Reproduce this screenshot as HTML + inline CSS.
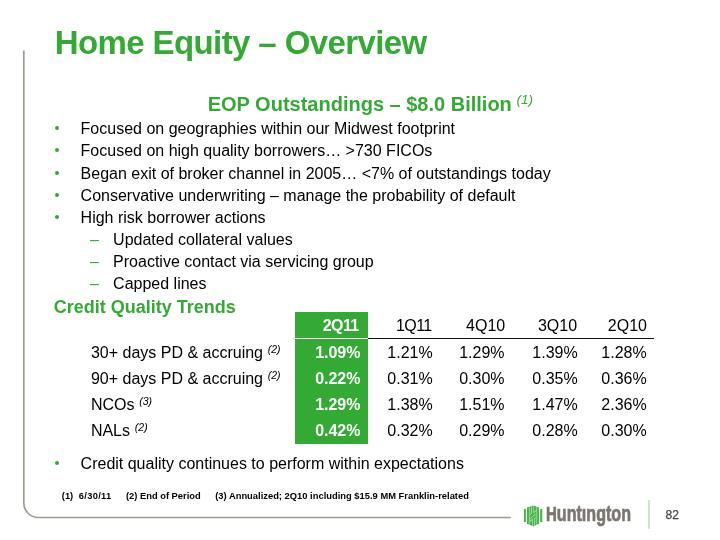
<!DOCTYPE html>
<html><head><meta charset="utf-8">
<style>
html,body{margin:0;padding:0;background:#fff;}
body{width:720px;height:540px;position:relative;overflow:hidden;will-change:transform;font-family:"Liberation Sans",sans-serif;color:#000;}
.a{position:absolute;white-space:nowrap;line-height:1;}
.g{color:#33aa33;}
.title{left:54.7px;top:25.7px;font-size:33px;font-weight:bold;letter-spacing:-0.6px;}
.sub{left:207.7px;top:94px;font-size:20px;font-weight:bold;}
.sup1{left:516.5px;top:92.8px;font-size:13.5px;font-style:italic;}
.b{font-size:16px;}
.dot{position:absolute;width:4.2px;height:4.2px;border-radius:50%;background:#33aa33;}
.dash{position:absolute;width:9px;height:1.6px;background:#33aa33;}
.h2{left:53.8px;top:298px;font-size:18px;font-weight:bold;}
.lab{font-size:16px;left:90.9px;}
.sm{font-size:10.5px;font-style:italic;position:relative;top:-5px;margin-left:4.8px;}
.num{font-size:16px;text-align:right;width:70px;}
.hd{letter-spacing:-0.6px;}
.wb{color:#fff;font-weight:bold;}
.fn{font-size:9.33px;font-weight:bold;top:491.5px;}
</style></head><body>
<!-- frame -->
<svg style="position:absolute;left:0;top:0" width="720" height="540"><path d="M23.8,50.6 V503 A14.5,14.5 0 0 0 38.3,517.5 H510.8" fill="none" stroke="#a09a91" stroke-width="1.7"/></svg>

<div class="a g title">Home Equity – Overview</div>
<div class="a g sub">EOP Outstandings – $8.0 Billion</div>
<div class="a g sup1">(1)</div>

<div class="dot" style="left:55px;top:126.2px"></div>
<div class="a b" style="left:80.6px;top:121.2px">Focused on geographies within our Midwest footprint</div>
<div class="dot" style="left:55px;top:148.3px"></div>
<div class="a b" style="left:80.6px;top:143.3px">Focused on high quality borrowers… &gt;730 FICOs</div>
<div class="dot" style="left:55px;top:170.5px"></div>
<div class="a b" style="left:80.6px;top:165.5px">Began exit of broker channel in 2005… &lt;7% of outstandings today</div>
<div class="dot" style="left:55px;top:192.6px"></div>
<div class="a b" style="left:80.6px;top:187.6px">Conservative underwriting – manage the probability of default</div>
<div class="dot" style="left:55px;top:214.7px"></div>
<div class="a b" style="left:80.6px;top:209.7px">High risk borrower actions</div>

<div class="a b g" style="left:90px;top:231.9px">–</div>
<div class="a b" style="left:113.1px;top:231.9px">Updated collateral values</div>
<div class="a b g" style="left:90px;top:254.1px">–</div>
<div class="a b" style="left:113.1px;top:254.1px">Proactive contact via servicing group</div>
<div class="a b g" style="left:90px;top:276.3px">–</div>
<div class="a b" style="left:113.1px;top:276.3px">Capped lines</div>

<div class="a g h2">Credit Quality Trends</div>

<!-- table -->
<div style="position:absolute;left:295px;top:312px;width:72.5px;height:132px;background:#33aa33;"></div>
<div style="position:absolute;left:295px;top:337.5px;width:72.5px;height:1.2px;background:#fff;"></div>
<div style="position:absolute;left:367.5px;top:337.6px;width:286.5px;height:1.3px;background:#111;"></div>

<div class="a num wb hd" style="left:288.6px;top:318.3px">2Q11</div>
<div class="a num hd" style="left:361.6px;top:318.3px">1Q11</div>
<div class="a num" style="left:435.2px;top:318.3px">4Q10</div>
<div class="a num" style="left:507.1px;top:318.3px">3Q10</div>
<div class="a num" style="left:577px;top:318.3px">2Q10</div>

<div class="a lab" style="top:345.2px">30+ days PD &amp; accruing<span class="sm">(2)</span></div>
<div class="a num wb" style="left:290.5px;top:345.2px">1.09%</div>
<div class="a num" style="left:362.7px;top:345.2px">1.21%</div>
<div class="a num" style="left:434.6px;top:345.2px">1.29%</div>
<div class="a num" style="left:507.7px;top:345.2px">1.39%</div>
<div class="a num" style="left:576.7px;top:345.2px">1.28%</div>

<div class="a lab" style="top:371.4px">90+ days PD &amp; accruing<span class="sm">(2)</span></div>
<div class="a num wb" style="left:290.5px;top:371.4px">0.22%</div>
<div class="a num" style="left:362.7px;top:371.4px">0.31%</div>
<div class="a num" style="left:434.6px;top:371.4px">0.30%</div>
<div class="a num" style="left:507.7px;top:371.4px">0.35%</div>
<div class="a num" style="left:576.7px;top:371.4px">0.36%</div>

<div class="a lab" style="top:396.9px">NCOs<span class="sm">(3)</span></div>
<div class="a num wb" style="left:290.5px;top:396.9px">1.29%</div>
<div class="a num" style="left:362.7px;top:396.9px">1.38%</div>
<div class="a num" style="left:434.6px;top:396.9px">1.51%</div>
<div class="a num" style="left:507.7px;top:396.9px">1.47%</div>
<div class="a num" style="left:576.7px;top:396.9px">2.36%</div>

<div class="a lab" style="top:422.9px">NALs<span class="sm">(2)</span></div>
<div class="a num wb" style="left:290.5px;top:422.9px">0.42%</div>
<div class="a num" style="left:362.7px;top:422.9px">0.32%</div>
<div class="a num" style="left:434.6px;top:422.9px">0.29%</div>
<div class="a num" style="left:507.7px;top:422.9px">0.28%</div>
<div class="a num" style="left:576.7px;top:422.9px">0.30%</div>

<div class="dot" style="left:55px;top:461.0px"></div>
<div class="a b" style="left:80.6px;top:456.0px">Credit quality continues to perform within expectations</div>

<div class="a fn" style="left:61.8px">(1)</div>
<div class="a fn" style="left:78.8px;letter-spacing:0.3px">6/30/11</div>
<div class="a fn" style="left:126px">(2) End of Period</div>
<div class="a fn" style="left:215.2px;letter-spacing:0.02px">(3) Annualized; 2Q10 including $15.9 MM Franklin-related</div>

<!-- logo -->
<svg style="position:absolute;left:523px;top:505px" width="20" height="22" viewBox="523 505 20 22">
  <g>
    <polygon points="533.1,505.2 542.5,508.6 542.5,522.4 533.1,526.6 523.7,522.4 523.7,508.6" fill="#46b446"/>
    <rect x="525.9" y="505" width="1.0" height="22" fill="#fff"/>
    <rect x="539.1" y="505" width="1.0" height="22" fill="#fff"/>
    <rect x="523" y="505" width="3" height="3.9" fill="#fff"/><rect x="523" y="522.1" width="3" height="5" fill="#fff"/><rect x="540" y="505" width="3" height="3.9" fill="#fff"/><rect x="540" y="522.1" width="3" height="5" fill="#fff"/>
    <rect x="528.9" y="505" width="0.75" height="22" fill="#b3deb0"/>
    <rect x="536.4" y="505" width="0.75" height="22" fill="#b3deb0"/>
    <path d="M531.1,505 H531.9 V513.6 L529.65,515.4 V514.4 L531.1,513.2 Z" fill="#b3deb0"/>
    <path d="M533.4,505 H534.1 V511.8 L536.4,510 V511 L533.4,513.4 Z" fill="#b3deb0"/>
    <path d="M535.1,527 H534.3 V518.4 L536.4,516.6 V517.6 L535.1,518.8 Z" fill="#b3deb0"/>
    <path d="M532.8,527 H532.1 V520.2 L529.65,522 V521 L532.8,518.6 Z" fill="#b3deb0"/>
    <path d="M529.65,518.4 L536.4,513.2 V514.2 L529.65,519.4 Z" fill="#b3deb0"/>
  <polygon points="522,504 533.1,504 533.1,505.2 523.7,508.6 522,508.6" fill="#fff"/>
    <polygon points="533.1,504 544,504 544,508.6 542.5,508.6 533.1,505.2" fill="#fff"/>
    <polygon points="522,522.4 523.7,522.4 533.1,526.6 533.1,528 522,528" fill="#fff"/>
    <polygon points="542.5,522.4 544,522.4 544,528 533.1,528 533.1,526.6" fill="#fff"/>
    <rect x="522" y="504" width="1.7" height="24" fill="#fff"/>
    <rect x="542.5" y="504" width="1.5" height="24" fill="#fff"/>
  </g>
</svg>
<div class="a" style="left:545.7px;top:503px;font-weight:bold;color:#7b766f;transform-origin:0 0;transform:scaleX(0.715);-webkit-text-stroke:0.7px #7b766f;"><span style="font-size:21px">H</span><span style="font-size:22.5px">untıngton</span></div>
<div style="position:absolute;left:648.3px;top:500px;width:1.5px;height:29px;background:#cfe6cb;"></div>
<div class="a" style="left:665.5px;top:509px;font-size:12px;color:#444;-webkit-text-stroke:0.25px #444;">82</div>
</body></html>
